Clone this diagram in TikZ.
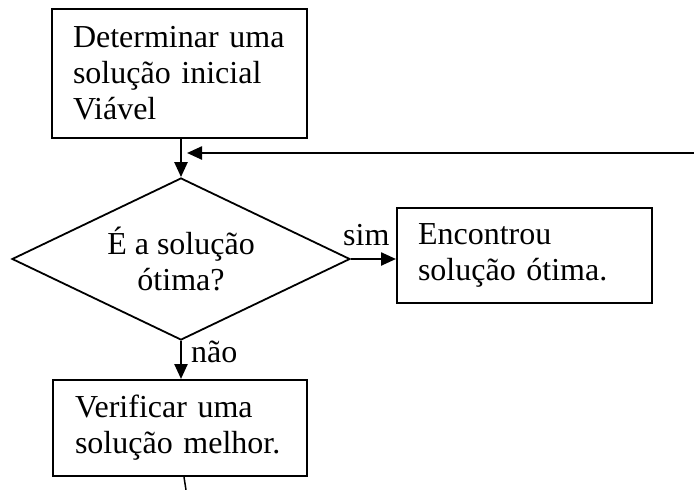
\documentclass[tikz,border=0pt]{standalone}
\usepackage{fontspec}
\setmainfont{Liberation Serif}
\usetikzlibrary{arrows.meta,shapes.geometric,calc}
\begin{document}
\begin{tikzpicture}[x=1pt,y=-1pt,
  txt/.style={font=\fontsize{32}{36}\selectfont},
  box/.style={txt,draw,line width=2pt,rectangle,minimum width=255pt,minimum height=#1,
    inner xsep=21pt,inner ysep=0pt,text width=213pt,align=left},
  decision/.style={txt,diamond,draw,line width=1.8pt,aspect=2.09,minimum width=338pt,
    minimum height=162pt,inner sep=0pt,align=center},
  arr/.style={line width=2.4pt,-{Triangle[length=15pt,width=13pt]}},
  lbl/.style={txt,inner sep=0pt,anchor=base west}]
\useasboundingbox (0,0) rectangle (694,490);
\node[box=129pt] (start) at (179.5,73.5) {Determinar uma\\solução inicial\\Viável};
\node[decision] (test) at (181,259) {É a solução\\ótima?};
\node[box=95pt] (found) at (524.5,255.5) {Encontrou\\solução ótima.};
\node[box=96pt,minimum width=254pt,text width=210pt,inner xsep=22pt] (verify) at (180,428) {Verificar uma\\solução melhor.};
\node[lbl] (simlbl) at (343,245) {sim};
\node[lbl] (naolbl) at (191,362) {não};
\coordinate (fbstart) at (694,153);
\coordinate (fbend) at (187,153);
\coordinate (tail) at (186,490);
\draw[arr] (start.south -| test.north) -- (test.north);
\draw[arr] (fbstart) -- (fbend);
\draw[arr] (test.east) -- (test.east -| found.west);
\draw[arr] (test.south) -- (test.south |- verify.north);
\draw[line width=1.5pt] ($(verify.south)+(4,0)$) -- (tail);
\end{tikzpicture}
\end{document}
